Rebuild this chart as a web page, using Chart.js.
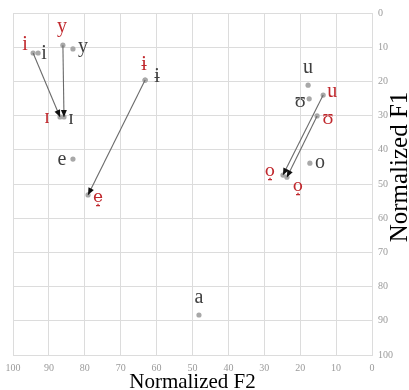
<!DOCTYPE html>
<html>
<head>
<meta charset="utf-8">
<script src="https://cdn.jsdelivr.net/npm/chart.js@4.4.1/dist/chart.umd.min.js"></script>
<style>
  body { margin: 0; background: #fff; }
</style>
</head>
<body>
<canvas id="myChart" width="409" height="390"></canvas>
<script>
// vowel positions (normalized F2 / F1)
var vowels = ["i", "i", "y", "y", "ɪ", "ɪ", "ɨ", "ɨ", "e", "e̝", "a", "u", "ʊ", "u", "ʊ", "o", "o̝", "o̝"];
var f2 = [94.4, 93.0, 86.1, 83.3, 86.9, 85.8, 63.2, 63.2, 83.3, 79.1, 48.2, 17.8, 17.5, 13.6, 15.3, 17.3, 24.8, 23.7];
var f1 = [11.7, 11.7, 9.4, 10.5, 30.4, 30.4, 19.6, 19.6, 42.7, 53.2, 88.3, 21.1, 25.1, 24.0, 30.1, 43.9, 47.4, 48.0];
// 1 = shifted vowel (red label), 0 = reference vowel
var shifted = [1, 0, 1, 0, 1, 0, 1, 0, 0, 1, 0, 0, 0, 1, 1, 0, 1, 1];
// arrows go from one vowel (index) to another
var arrowFrom = [0, 2, 6, 13, 14];
var arrowTo = [4, 5, 9, 16, 17];
var axisTicks = [0, 10, 20, 30, 40, 50, 60, 70, 80, 90, 100];

// label placement relative to the dot, in pixels
var labelOffsets = [[-8, -8], [6, 1], [-1, -18], [10, -2], [-13, 1], [7, 2], [-1, -15], [12, -3],
  [-11, 1], [10, 3], [0, -17], [0, -17], [-9, 3], [9, -3], [11, 3], [10, 0], [-13, -4], [11, 9]];

var ctx = document.getElementById("myChart");
var serif = "'Liberation Serif', 'DejaVu Serif', serif";

var points = f2.map(function(v, i) { return { x: v, y: f1[i] }; });

var datasets = arrowFrom.map(function(a, k) {
  return {
    type: 'line',
    data: [points[a], points[arrowTo[k]]],
    borderColor: '#6b6b6b',
    borderWidth: 1.1,
    pointRadius: 0,
    showLine: true,
    arrow: true
  };
});
datasets.push({
  type: 'scatter',
  data: points,
  backgroundColor: '#a8a8a8',
  borderWidth: 0,
  pointRadius: 2.6
});

var vowelPlugin = {
  id: 'vowels',
  afterDatasetsDraw: function(chart) {
    var c = chart.ctx;
    var xs = chart.scales.x, ys = chart.scales.y;
    // arrow heads
    chart.data.datasets.forEach(function(ds, di) {
      if (!ds.arrow) return;
      var el = chart.getDatasetMeta(di).data;
      var x0 = el[0].x, y0 = el[0].y, x1 = el[1].x, y1 = el[1].y;
      var ang = Math.atan2(y1 - y0, x1 - x0);
      var len = 7, w = 3;
      c.save();
      c.fillStyle = '#111';
      c.beginPath();
      c.moveTo(x1, y1);
      c.lineTo(x1 - len * Math.cos(ang) + w * Math.sin(ang), y1 - len * Math.sin(ang) - w * Math.cos(ang));
      c.lineTo(x1 - len * Math.cos(ang) - w * Math.sin(ang), y1 - len * Math.sin(ang) + w * Math.cos(ang));
      c.closePath();
      c.fill();
      c.restore();
    });
    // vowel labels
    c.save();
    c.textAlign = 'center';
    c.textBaseline = 'middle';
    vowels.forEach(function(v, i) {
      var px = xs.getPixelForValue(f2[i]) + labelOffsets[i][0];
      var py = ys.getPixelForValue(f1[i]) + labelOffsets[i][1];
      // labels with a diacritic need a font that carries the combining mark
      c.font = v.length > 1 ? "17px 'DejaVu Serif', serif" : '20px ' + serif;
      c.fillStyle = shifted[i] ? '#c0282d' : '#404040';
      c.fillText(v, px, py);
    });
    c.restore();
  },
  afterDraw: function(chart) {
    var c = chart.ctx;
    var a = chart.chartArea;
    c.save();
    c.fillStyle = '#000';
    c.textAlign = 'center';
    c.textBaseline = 'alphabetic';
    c.font = '21px ' + serif;
    c.fillText('Normalized F2', (a.left + a.right) / 2, 388);
    c.translate(407, 167);
    c.rotate(-Math.PI / 2);
    c.font = '25px ' + serif;
    c.fillText('Normalized F1', 0, 0);
    c.restore();
  }
};

var tickFont = { family: serif, size: 10 };

var myChart = new Chart(ctx, {
  type: 'scatter',
  data: { datasets: datasets },
  plugins: [vowelPlugin],
  options: {
    responsive: false,
    animation: false,
    layout: { padding: { left: 13, top: 13, right: 0, bottom: 0 } },
    plugins: { legend: { display: false }, tooltip: { enabled: false } },
    scales: {
      x: {
        type: 'linear',
        reverse: true,
        min: 0,
        max: 100,
        afterBuildTicks: function(s) { s.ticks = axisTicks.map(function(v) { return { value: v }; }); },
        afterFit: function(s) { s.height = 35; },
        grid: { color: '#dcdcdc', drawTicks: false },
        border: { color: '#dcdcdc' },
        ticks: { font: tickFont, color: '#9a9a9a', padding: 7, autoSkip: false, maxRotation: 0 }
      },
      y: {
        type: 'linear',
        position: 'right',
        reverse: true,
        min: 0,
        max: 100,
        afterBuildTicks: function(s) { s.ticks = axisTicks.map(function(v) { return { value: v }; }); },
        afterFit: function(s) { s.width = 37; },
        grid: { color: '#dcdcdc', drawTicks: false },
        border: { color: '#dcdcdc' },
        ticks: { font: tickFont, color: '#9a9a9a', padding: 6, autoSkip: false }
      }
    }
  }
});
</script>
</body>
</html>
